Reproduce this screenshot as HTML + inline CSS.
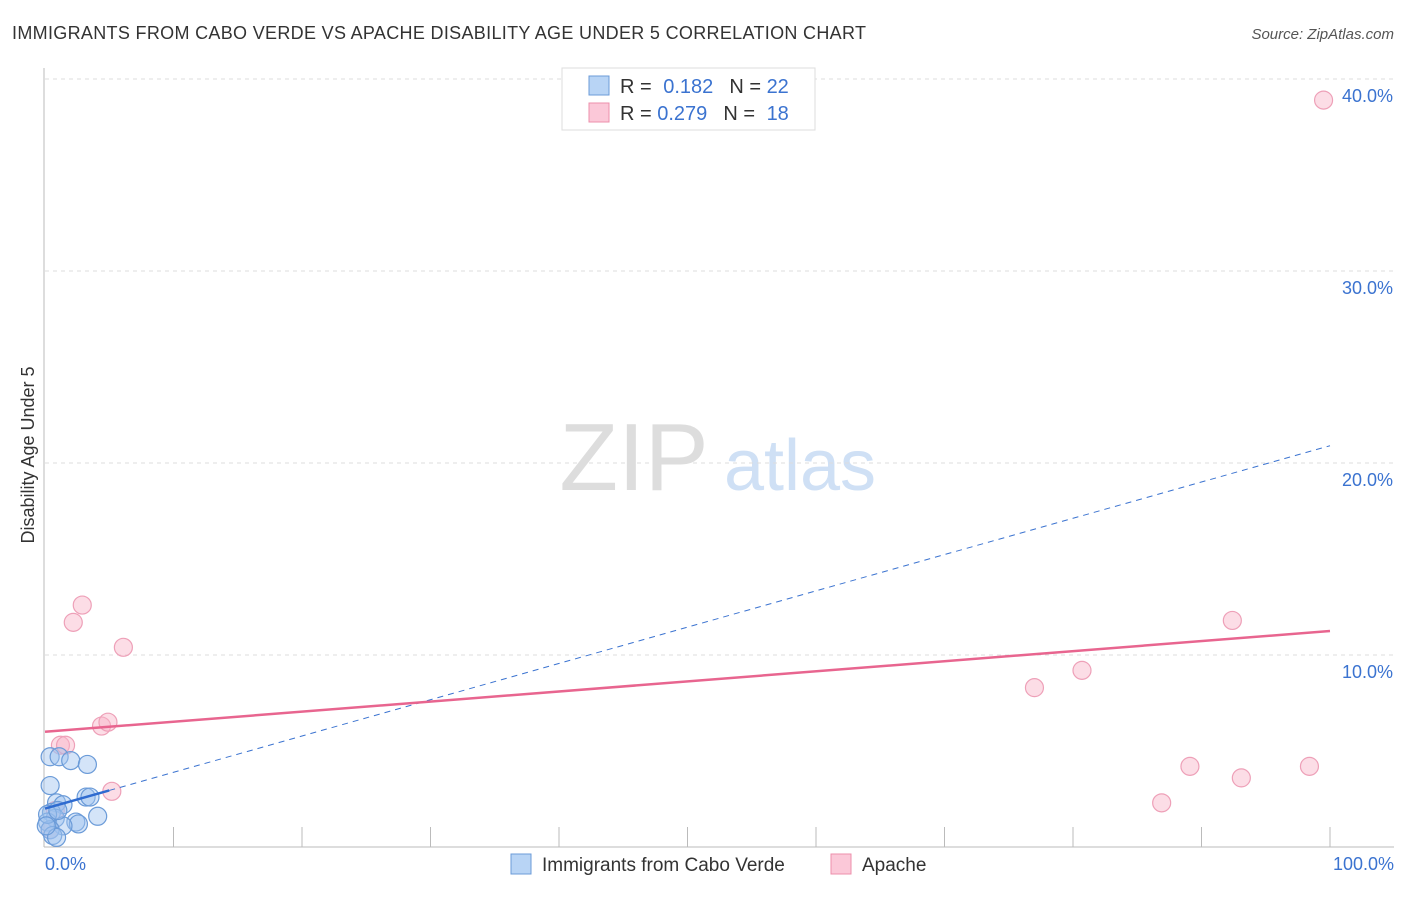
<!DOCTYPE html>
<html><head><meta charset="utf-8"><style>
body{margin:0;background:#fff;font-family:"Liberation Sans",sans-serif;}
svg text{font-family:"Liberation Sans",sans-serif;}
</style></head><body>
<svg id="chart" width="1406" height="892">
<text x="12" y="39" font-size="18" fill="#333" textLength="854">IMMIGRANTS FROM CABO VERDE VS APACHE DISABILITY AGE UNDER 5 CORRELATION CHART</text>
<text x="1394" y="39" font-size="15" font-style="italic" fill="#555" text-anchor="end">Source: ZipAtlas.com</text>
<text x="34" y="455" font-size="18" fill="#333" text-anchor="middle" transform="rotate(-90 34 455)">Disability Age Under 5</text>
<g><text x="634" y="490" font-size="96" fill="#ddd" font-family="Liberation Serif" text-anchor="middle">ZIP</text><text x="800" y="490" font-size="72" fill="#cfe0f5" text-anchor="middle">atlas</text></g>
<g id="grid"></g><g id="axes"></g><g id="marks"></g>
<g>
<rect x="562" y="68" width="253" height="62" fill="#fff" stroke="#ddd"/>
<rect x="589" y="76" width="20" height="19" fill="#b8d4f5" stroke="#6b9bd8"/>
<rect x="589" y="103" width="20" height="19" fill="#fbc8d8" stroke="#ec8fab"/>
<text x="620" y="93" font-size="20" fill="#333">R = <tspan fill="#3b73d0" dx="6">0.182</tspan><tspan fill="#333" dx="16">N = </tspan><tspan fill="#3b73d0">22</tspan></text>
<text x="620" y="120" font-size="20" fill="#333">R = <tspan fill="#3b73d0">0.279</tspan><tspan fill="#333" dx="16">N = </tspan><tspan fill="#3b73d0" dx="6">18</tspan></text>
</g>
<g>
<rect x="511" y="854" width="20" height="20" fill="#b8d4f5" stroke="#6b9bd8"/>
<text x="542" y="871" font-size="19" fill="#333">Immigrants from Cabo Verde</text>
<rect x="831" y="854" width="20" height="20" fill="#fbc8d8" stroke="#ec8fab"/>
<text x="862" y="871" font-size="19" fill="#333">Apache</text>
</g>
</svg>
<script>
const yTicks=[10,20,30,40];
const yTickLabels=["10.0%","20.0%","30.0%","40.0%"];
const xLabels=["0.0%","100.0%"];
const blueX=[0.4,1.1,2.0,3.3,0.4,3.2,3.5,4.1,0.9,1.4,0.5,0.8,0.2,2.4,2.6,1.4,0.4,0.6,0.9,0.2,1.0,0.1];
const blueY=[4.7,4.7,4.5,4.3,3.2,2.6,2.6,1.6,2.3,2.2,1.8,1.5,1.3,1.3,1.2,1.1,0.9,0.6,0.5,1.7,1.9,1.1];
const pinkX=[2.9,2.2,6.1,4.4,4.9,1.2,1.6,5.2,0.8,0.4,99.5,92.4,77.0,80.7,86.9,89.1,93.1,98.4];
const pinkY=[12.6,11.7,10.4,6.3,6.5,5.3,5.3,2.9,1.9,0.9,38.9,11.8,8.3,9.2,2.3,4.2,3.6,4.2];
const blueTrend=[2.0,20.9];
const pinkTrend=[6.0,11.25];
const NS="http://www.w3.org/2000/svg";
const X=v=>45+v*12.85, Y=v=>847-v*19.2;
function mk(t,a,p){const e=document.createElementNS(NS,t);for(const k in a)e.setAttribute(k,a[k]);document.getElementById(p).appendChild(e);return e;}
yTicks.forEach((t,i)=>{
 const g=mk('line',{x1:45,x2:1394,y1:Y(t),y2:Y(t),stroke:'#ddd','stroke-dasharray':'4,4'},'grid');
 
 
 const l=mk('text',{x:1393,y:Y(t)+23,'font-size':18,fill:'#3b73d0','text-anchor':'end'},'axes');l.textContent=yTickLabels[i];
 
 
});
const ya=mk('line',{x1:44,x2:44,y1:68,y2:847,stroke:'#bbb'},'axes');


const xa=mk('line',{x1:44,x2:1394,y1:847,y2:847,stroke:'#bbb'},'axes');


for(let i=1;i<=10;i++){mk('line',{x1:X(i*10),x2:X(i*10),y1:827,y2:847,stroke:'#bbb'},'axes');}
[[X(0),'start',0],[1394,'end',1]].forEach(([x,a,i])=>{const t=mk('text',{x:x,y:870,'font-size':18,fill:'#3b73d0','text-anchor':a},'axes');t.textContent=xLabels[i];
 
 });
pinkX.forEach((x,i)=>{const c=mk('circle',{cx:X(x),cy:Y(pinkY[i]),r:9,fill:'rgba(248,180,200,0.45)',stroke:'#eea0b8','stroke-width':1.2},'marks');
 
 });
blueX.forEach((x,i)=>{const c=mk('circle',{cx:X(x),cy:Y(blueY[i]),r:9,fill:'rgba(160,196,240,0.45)',stroke:'#6b9bd8','stroke-width':1.2},'marks');
 
 });
const bt=v=>blueTrend[0]+(blueTrend[1]-blueTrend[0])*v/100;
const bd=mk('line',{x1:X(5),y1:Y(bt(5)),x2:X(100),y2:Y(bt(100)),stroke:'#3b73d0','stroke-dasharray':'6,5','stroke-width':1},'marks');


const bs=mk('line',{x1:X(0),y1:Y(bt(0)),x2:X(5),y2:Y(bt(5)),stroke:'#2f6bd0','stroke-width':2.5},'marks');


const pt=mk('line',{x1:X(0),y1:Y(pinkTrend[0]),x2:X(100),y2:Y(pinkTrend[1]),stroke:'#e8658f','stroke-width':2.5},'marks');


</script>
</body></html>
